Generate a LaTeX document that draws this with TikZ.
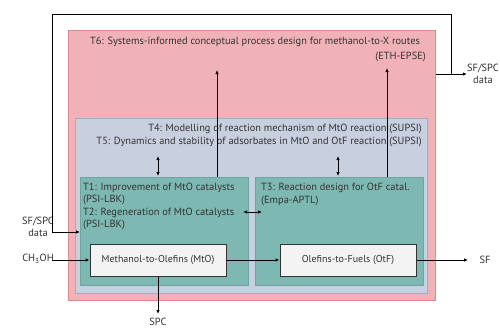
\documentclass[tikz,border=0pt]{standalone}
\usepackage{fontspec}
\setmainfont{PT Sans}
\usetikzlibrary{arrows.meta}
\definecolor{redfill}{HTML}{F0B2B6}
\definecolor{redline}{HTML}{E0868D}
\definecolor{bluefill}{HTML}{C8D0E0}
\definecolor{blueline}{HTML}{A2ACC6}
\definecolor{tealfill}{HTML}{7DB8B3}
\definecolor{tealline}{HTML}{6BA6A2}
\definecolor{procfill}{HTML}{F3F3F3}
\definecolor{ink}{HTML}{333333}
\tikzset{
  zone/.style={draw, line width=1pt, inner sep=0pt, anchor=north west},
  proc/.style={draw=ink, fill=procfill, line width=1pt, minimum width=136pt, minimum height=32pt,
    inner sep=0pt, font=\fontsize{10}{12}\selectfont, text=ink},
  lbl/.style={font=\fontsize{10.4}{12.4}\selectfont, text=ink, inner sep=0pt},
  flow/.style={line width=0.8pt, draw=black, -{Latex[length=4pt,width=3.5pt]}},
  both/.style={line width=0.8pt, draw=black, {Latex[length=4pt,width=3.5pt]}-{Latex[length=4pt,width=3.5pt]}},
  wire/.style={line width=0.8pt, draw=black}
}
\begin{document}
\begin{tikzpicture}[x=1pt,y=-1pt]
\useasboundingbox (0,0) rectangle (500,329);
\fill[white] (0,0) rectangle (500,329);

% nested task areas
\node[zone, draw=redline, fill=redfill, minimum width=367pt, minimum height=270pt] (t6) at (68,30) {};
\node[zone, draw=blueline, fill=bluefill, minimum width=352pt, minimum height=175pt] (t45) at (75,118) {};
\node[zone, draw=tealline, fill=tealfill, minimum width=168pt, minimum height=108pt] (left) at (80,177) {};
\node[zone, draw=tealline, fill=tealfill, minimum width=168pt, minimum height=108pt] (right) at (255,177) {};

% task labels
\node[lbl, anchor=west] (t6a) at (90,42) {T6: Systems-informed conceptual process design for methanol-to-X routes};
\node[lbl, anchor=east] (t6b) at (426,57) {(ETH-EPSE)};
\node[lbl, anchor=east] (t4) at (422,129) {T4: Modelling of reaction mechanism of MtO reaction (SUPSI)};
\node[lbl, anchor=east] (t5) at (422,142) {T5: Dynamics and stability of adsorbates in MtO and OtF reaction (SUPSI)};
\node[lbl, anchor=west, align=left] (t12) at (83,206.5) {T1: Improvement of MtO catalysts\\(PSI-LBK)\\T2: Regeneration of MtO catalysts\\(PSI-LBK)};
\node[lbl, anchor=west, align=left] (t3) at (261,194.5) {T3: Reaction design for OtF catal.\\(Empa-APTL)};

% process units
\node[proc] (mto) at (158,260) {Methanol-to-Olefins (MtO)};
\node[proc] (otf) at (348,260) {Olefins-to-Fuels (OtF)};

% external streams
\node[lbl] (ch3oh) at (38,259) {CH\textsubscript{3}OH};
\node[lbl, align=center] (sfin) at (38,227) {SF/SPC\\data};
\node[lbl] (sf) at (485,260) {SF};
\node[lbl, anchor=base] (spc) at (158,325) {SPC};
\node[lbl, align=center, anchor=east] (sfout) at (499,74) {SF/SPC\\data};

\coordinate (top1) at (217,70);
\coordinate (top2) at (387,68);
\coordinate (fbR) at (451,74);
\coordinate (fbin) at (80,232);

% information flows
\draw[flow] (217,177) -- (top1);
\draw[flow] (387,177) -- (top2);
\draw[both] (158,156) -- (158,176);
\draw[both] (338,156) -- (338,176);
\draw[both] (243,212) -- (262,212);
\draw[wire] (t6.east |- fbR) -- (fbR);
\draw[flow] (fbR) -- (sfout.west);
\draw[flow] (fbR) -- (451,14) -- (52,14) -- (52,232) -- (fbin);

% material flows
\draw[flow] (52,260) -- (mto.west);
\draw[flow] (mto) -- (otf);
\draw[flow] (otf.east) -- (468,260);
\draw[flow] (mto.south) -- (158,314);
\end{tikzpicture}
\end{document}
